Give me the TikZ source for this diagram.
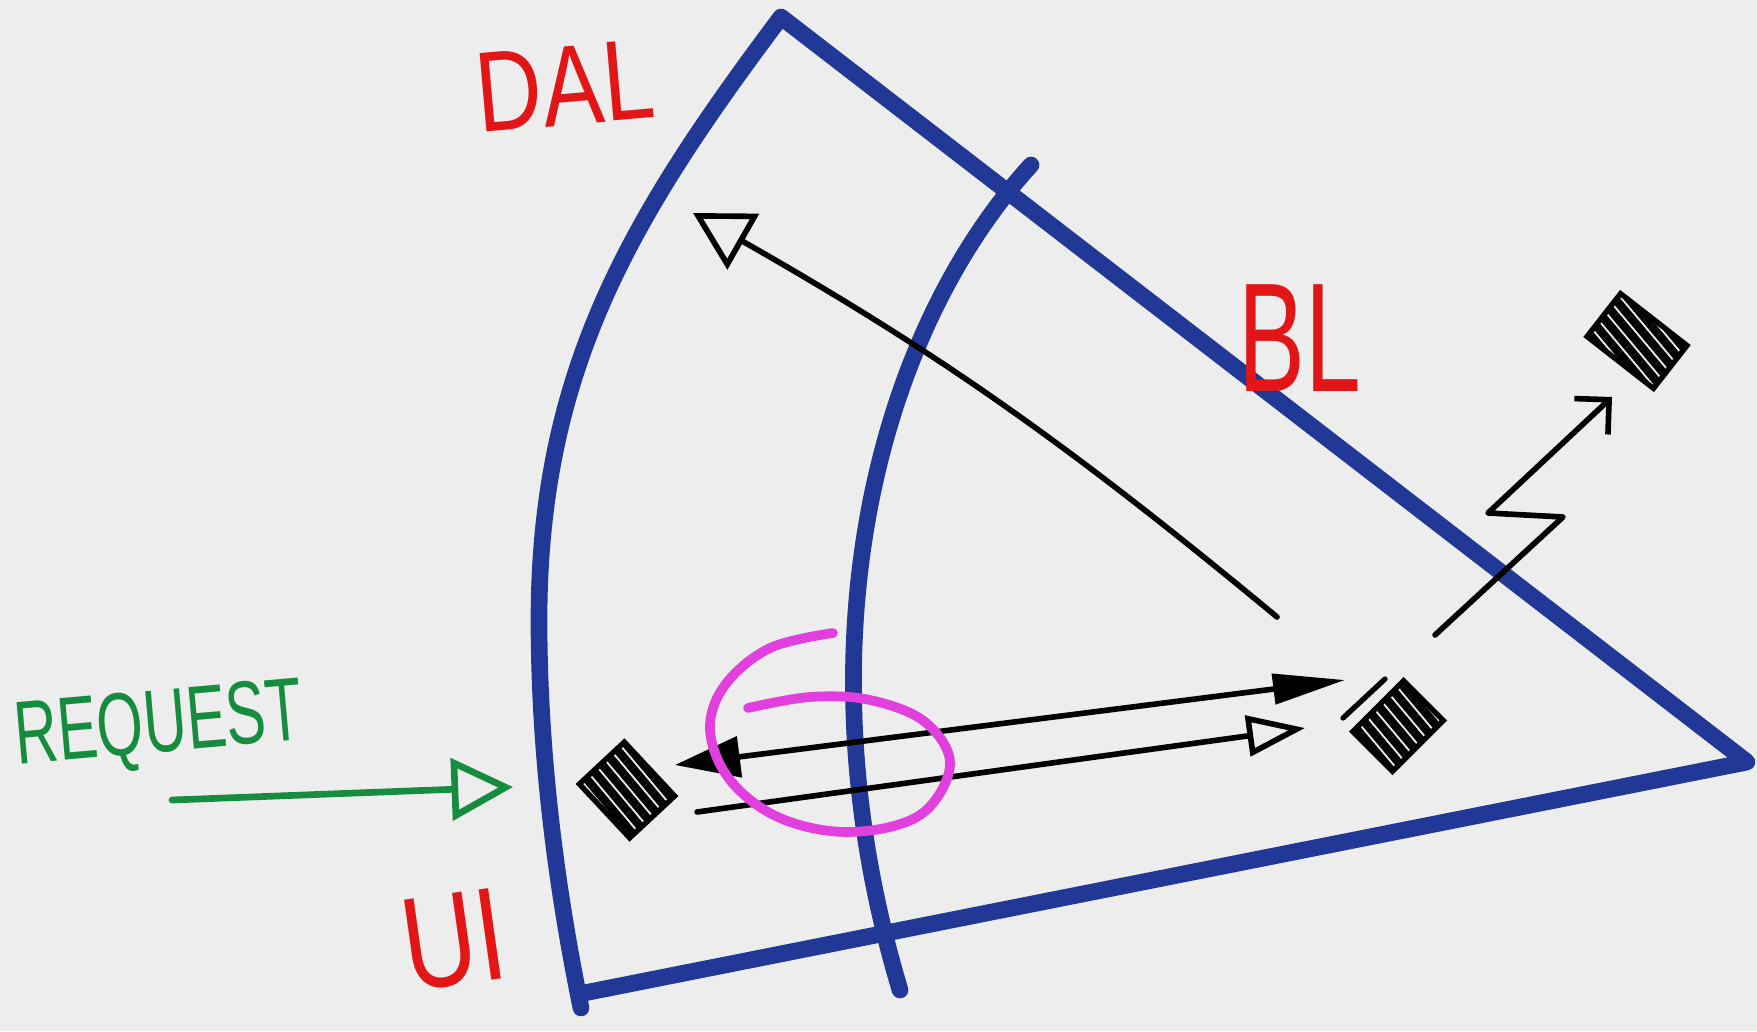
\documentclass[tikz,border=0pt]{standalone}
\usepackage{graphicx}
\usepackage{fontspec}
\setmainfont{Liberation Sans}
\usetikzlibrary{arrows.meta,patterns.meta}

\definecolor{paper}{RGB}{237,237,237}
\definecolor{penblue}{RGB}{34,56,150}
\definecolor{penred}{RGB}{226,22,22}
\definecolor{pengreen}{RGB}{22,140,62}
\definecolor{penpink}{RGB}{226,64,222}

\tikzset{
  wall/.style={draw=penblue,line width=9.5pt,line cap=round,line join=round},
  ink/.style={line width=3.2pt,line cap=round,line join=round},
  layer/.style={text=penred,inner sep=0pt},
  docbox/.style={draw,line width=3pt,inner sep=0pt,
    pattern={Lines[angle=-50,distance=6pt,line width=4.8pt]}},
}

\begin{document}
\begin{tikzpicture}[x=0.02cm,y=-0.02cm]
    \fill[paper] (0,0) rectangle (1757,1031);
    \useasboundingbox (0,0) rectangle (1757,1031);

    % layer walls
    \draw[wall] (581,1008) .. controls (555,881) and (539,750) .. (539,620)
        .. controls (539,370) and (631,217) .. (781,17)
        -- (1747,762) -- (584,993);
    \draw[wall] (1031,165) .. controls (880,330) and (795,640) .. (900,990);

    \node[layer,font=\fontsize{52}{52}\selectfont,rotate=5] (dal) at (565,86) {\scalebox{1}[1.25]{DAL}};
    \node[layer,font=\fontsize{57}{57}\selectfont] (bl) at (1300,338) {\scalebox{1}[1.55]{BL}};
    \node[layer,font=\fontsize{58}{58}\selectfont,rotate=8] (ui) at (454,940) {\scalebox{1}[1.3]{UI}};
    \node[text=pengreen,inner sep=0pt,font=\fontsize{34}{34}\selectfont,rotate=5] (request) at (159,729) {\scalebox{1}[1.5]{REQUEST}};

    \node[docbox,minimum width=42pt,minimum height=35pt,rotate=-47] (uibox) at (627,790) {};
    \node[docbox,minimum width=41pt,minimum height=32pt,rotate=45] (blbox) at (1398,726) {};
    \node[docbox,minimum width=48pt,minimum height=31pt,rotate=-38] (extbox) at (1637,341) {};
    \draw[ink,line width=3pt] (1343,718) -- (1385,679);

    \coordinate (reqtail) at (172,800);
    \coordinate (uiedge) at (513,787);
    \coordinate (bl-up) at (1277,617);
    \coordinate (dal-in) at (693,213);
    \coordinate (ui-back) at (675,765);
    \coordinate (bl-back) at (1345,680);
    \coordinate (ui-out) at (697,812);
    \coordinate (bl-in) at (1305,728);
    \coordinate (bl-ext) at (1435,635);
    \coordinate (ext-in) at (1612,397);

    \draw[pengreen,line width=3.8pt,line cap=round,-{Triangle[open,length=35pt,width=35pt]}] (reqtail) -- (uiedge);
    \draw[ink,-{Triangle[open,length=33pt,width=36pt]}] (bl-up) to[bend right=5] (dal-in);
    \draw[ink,{Triangle[length=37pt,width=23pt]}-{Triangle[length=41pt,width=17pt]}] (ui-back) -- (bl-back);
    \draw[ink,-{Triangle[open,length=33pt,width=23pt]}] (ui-out) -- (bl-in);
    \draw[ink,-{Straight Barb[length=14pt,width=28pt]}] (bl-ext) -- (1563,517) -- (1488,513) -- (ext-in);

    % the circled crossing
    \draw[penpink,line width=5.5pt,line cap=round] plot[smooth,tension=0.6] coordinates
        {(833,633) (770,648) (725,685) (710,730) (730,780) (780,818) (850,832)
         (920,815) (950,765) (925,722) (870,700) (810,697) (748,708)};
\end{tikzpicture}
\end{document}
